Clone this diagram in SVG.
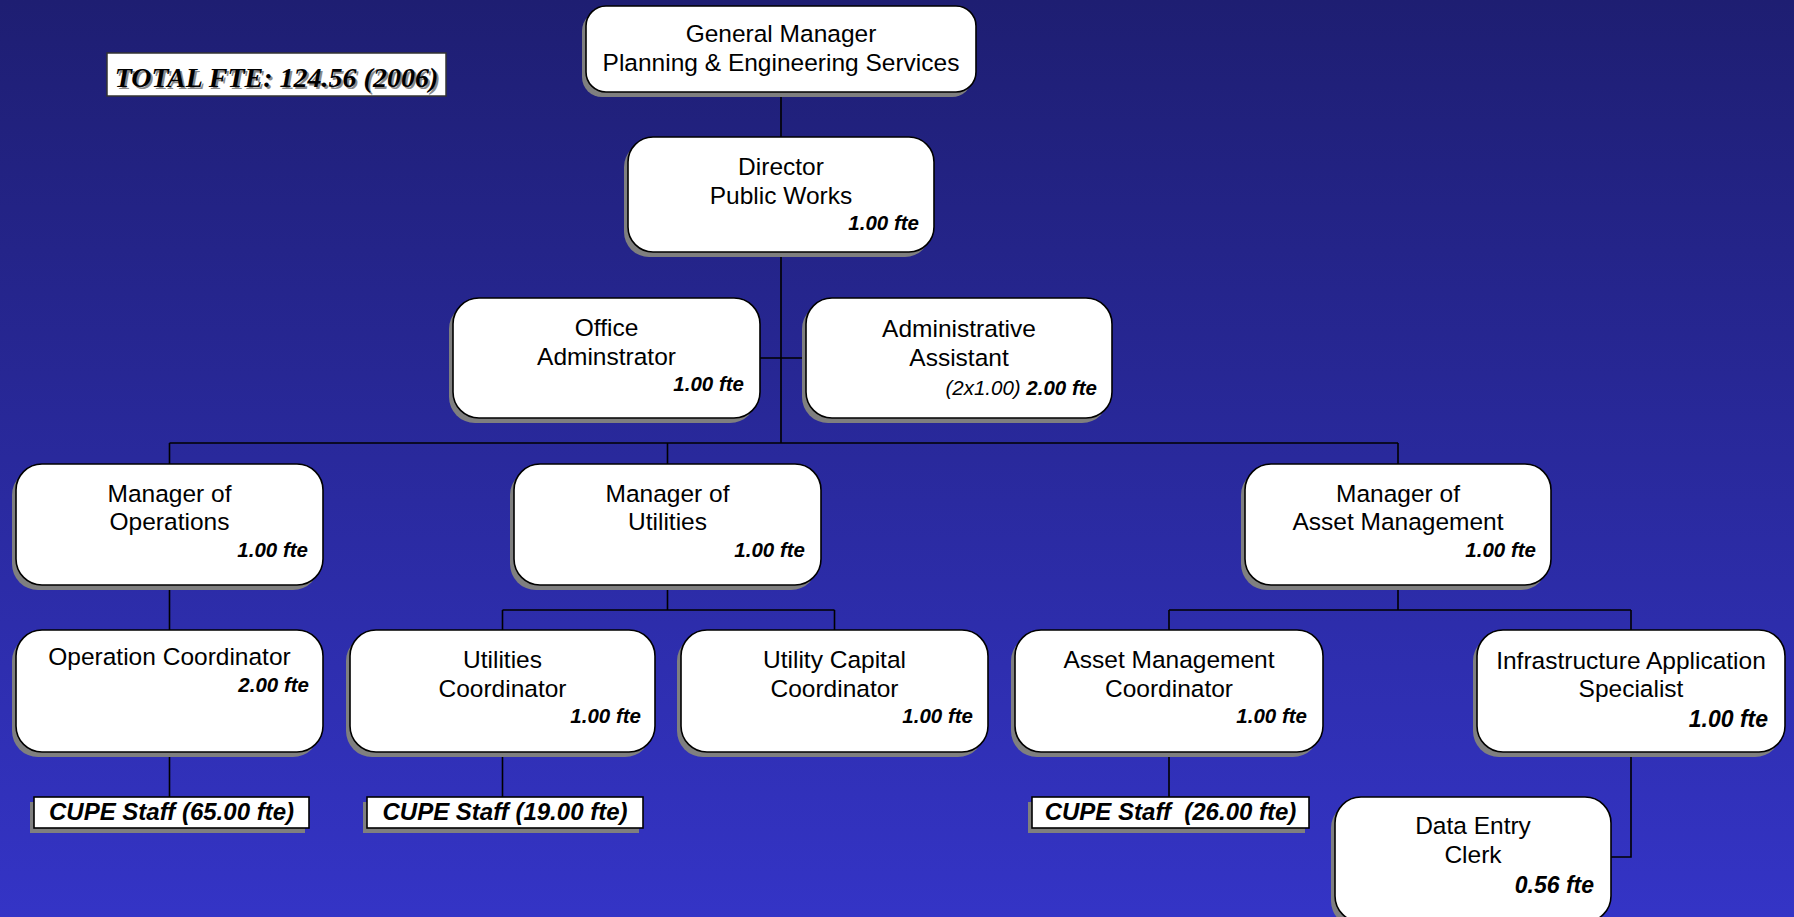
<svg xmlns="http://www.w3.org/2000/svg" width="1794" height="917" viewBox="0 0 1794 917">
<defs>
<linearGradient id="bg" x1="0" y1="0" x2="0" y2="1">
<stop offset="0" stop-color="#1e1e72"/>
<stop offset="1" stop-color="#3434c6"/>
</linearGradient>
</defs>
<style>
.sh{fill:#7f7f7f}
.bx{fill:#fff;stroke:#000;stroke-width:1.6}
.t{font-family:"Liberation Sans",Arial,sans-serif;font-size:24.5px;fill:#000;text-anchor:middle}
.f{font-family:"Liberation Sans",Arial,sans-serif;font-size:20.5px;font-weight:bold;font-style:italic;fill:#000;text-anchor:end}
.fl{font-size:23px}
.fi{font-weight:normal}
.cu{font-family:"Liberation Sans",Arial,sans-serif;font-size:24px;font-weight:bold;font-style:italic;fill:#000;text-anchor:middle}
.c{stroke:#000;stroke-width:1.6;fill:none}
.tot{font-family:"Liberation Serif","Times New Roman",serif;font-size:28px;font-weight:bold;font-style:italic;text-anchor:middle}
</style>
<rect x="0" y="0" width="1794" height="917" fill="url(#bg)"/>

<g id="connectors">
<path class="c" d="M781 92V137M781 252V443M760 358H806M169.5 443H1398M169.5 443V464M667.5 443V464M1398 443V464"/>
<path class="c" d="M169.5 585V630M169.5 752V797"/>
<path class="c" d="M667.5 585V610M502.5 610H834.5M502.5 610V630M834.5 610V630M502.5 752V797"/>
<path class="c" d="M1398 585V610M1169 610H1631M1169 610V630M1631 610V630M1169 752V797M1631 752V857H1611"/>
</g>

<g id="total">
<rect x="107" y="53" width="339" height="43" fill="#fff" stroke="#333" stroke-width="1.5"/>
<text class="tot" x="278.5" y="89" fill="#8a8a8a">TOTAL FTE: 124.56 (2006)</text>
<text class="tot" x="276.5" y="87" fill="#000">TOTAL FTE: 124.56 (2006)</text>
</g>

<g id="gm">
<rect class="sh" x="582" y="11" width="390" height="86" rx="20"/>
<rect class="bx" x="586" y="6" width="390" height="86" rx="20"/>
<text class="t" x="781" y="41.5">General Manager</text>
<text class="t" x="781" y="71">Planning &amp; Engineering Services</text>
</g>

<g id="director">
<rect class="sh" x="624" y="142" width="306" height="115" rx="25"/>
<rect class="bx" x="628" y="137" width="306" height="115" rx="25"/>
<text class="t" x="781" y="175">Director</text>
<text class="t" x="781" y="204">Public Works</text>
<text class="f" x="919" y="230">1.00 fte</text>
</g>

<g id="office-admin">
<rect class="sh" x="449" y="303" width="307" height="120" rx="26"/>
<rect class="bx" x="453" y="298" width="307" height="120" rx="26"/>
<text class="t" x="606.5" y="336">Office</text>
<text class="t" x="606.5" y="365">Adminstrator</text>
<text class="f" x="744" y="391">1.00 fte</text>
</g>

<g id="admin-assistant">
<rect class="sh" x="802" y="303" width="306" height="120" rx="26"/>
<rect class="bx" x="806" y="298" width="306" height="120" rx="26"/>
<text class="t" x="959" y="337">Administrative</text>
<text class="t" x="959" y="366">Assistant</text>
<text class="f" x="1097" y="395"><tspan class="fi">(2x1.00) </tspan>2.00 fte</text>
</g>

<g id="mgr-operations">
<rect class="sh" x="12" y="469" width="307" height="121" rx="26"/>
<rect class="bx" x="16" y="464" width="307" height="121" rx="26"/>
<text class="t" x="169.5" y="502">Manager of</text>
<text class="t" x="169.5" y="530">Operations</text>
<text class="f" x="308" y="557">1.00 fte</text>
</g>

<g id="mgr-utilities">
<rect class="sh" x="510" y="469" width="307" height="121" rx="26"/>
<rect class="bx" x="514" y="464" width="307" height="121" rx="26"/>
<text class="t" x="667.5" y="502">Manager of</text>
<text class="t" x="667.5" y="530">Utilities</text>
<text class="f" x="805" y="557">1.00 fte</text>
</g>

<g id="mgr-asset">
<rect class="sh" x="1241" y="469" width="306" height="121" rx="26"/>
<rect class="bx" x="1245" y="464" width="306" height="121" rx="26"/>
<text class="t" x="1398" y="502">Manager of</text>
<text class="t" x="1398" y="530">Asset Management</text>
<text class="f" x="1536" y="557">1.00 fte</text>
</g>

<g id="operation-coordinator">
<rect class="sh" x="12" y="635" width="307" height="122" rx="26"/>
<rect class="bx" x="16" y="630" width="307" height="122" rx="26"/>
<text class="t" x="169.5" y="665">Operation Coordinator</text>
<text class="f" x="309" y="692">2.00 fte</text>
</g>

<g id="utilities-coordinator">
<rect class="sh" x="346" y="635" width="305" height="122" rx="26"/>
<rect class="bx" x="350" y="630" width="305" height="122" rx="26"/>
<text class="t" x="502.5" y="668">Utilities</text>
<text class="t" x="502.5" y="697">Coordinator</text>
<text class="f" x="641" y="723">1.00 fte</text>
</g>

<g id="utility-capital-coordinator">
<rect class="sh" x="677" y="635" width="307" height="122" rx="26"/>
<rect class="bx" x="681" y="630" width="307" height="122" rx="26"/>
<text class="t" x="834.5" y="668">Utility Capital</text>
<text class="t" x="834.5" y="697">Coordinator</text>
<text class="f" x="973" y="723">1.00 fte</text>
</g>

<g id="asset-coordinator">
<rect class="sh" x="1011" y="635" width="308" height="122" rx="26"/>
<rect class="bx" x="1015" y="630" width="308" height="122" rx="26"/>
<text class="t" x="1169" y="668">Asset Management</text>
<text class="t" x="1169" y="697">Coordinator</text>
<text class="f" x="1307" y="723">1.00 fte</text>
</g>

<g id="infra-specialist">
<rect class="sh" x="1473" y="635" width="308" height="122" rx="26"/>
<rect class="bx" x="1477" y="630" width="308" height="122" rx="26"/>
<text class="t" x="1631" y="669">Infrastructure Application</text>
<text class="t" x="1631" y="697">Specialist</text>
<text class="f fl" x="1768" y="727">1.00 fte</text>
</g>

<g id="data-entry-clerk">
<rect class="sh" x="1331" y="802" width="276" height="125" rx="26"/>
<rect class="bx" x="1335" y="797" width="276" height="125" rx="26"/>
<text class="t" x="1473" y="834">Data Entry</text>
<text class="t" x="1473" y="863">Clerk</text>
<text class="f fl" x="1594" y="893">0.56 fte</text>
</g>

<g id="cupe-65">
<rect class="sh" x="30" y="802" width="275" height="31"/>
<rect class="bx" x="34" y="797" width="275" height="31"/>
<text class="cu" x="171.5" y="820">CUPE Staff (65.00 fte)</text>
</g>

<g id="cupe-19">
<rect class="sh" x="363" y="802" width="276" height="31"/>
<rect class="bx" x="367" y="797" width="276" height="31"/>
<text class="cu" x="505" y="820">CUPE Staff (19.00 fte)</text>
</g>

<g id="cupe-26">
<rect class="sh" x="1028" y="802" width="277" height="31"/>
<rect class="bx" x="1032" y="797" width="277" height="31"/>
<text class="cu" x="1170.5" y="820" xml:space="preserve">CUPE Staff  (26.00 fte)</text>
</g>
</svg>
